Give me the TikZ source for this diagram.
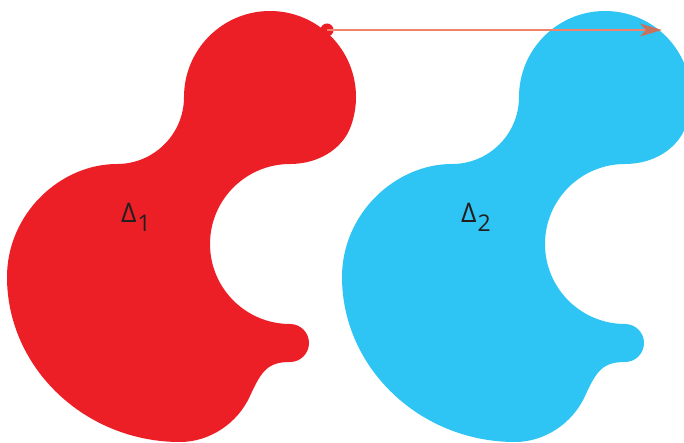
\documentclass[tikz,border=0pt]{standalone}
\usepackage{fontspec}
\setmainfont{Open Sans}
\usetikzlibrary{arrows.meta}
\definecolor{blobred}{HTML}{ED1F26}
\definecolor{blobcyan}{HTML}{2EC4F3}
\definecolor{arrline}{HTML}{F3826A}
\definecolor{arrhead}{HTML}{C7725F}
\definecolor{lbltext}{HTML}{231F20}
\tikzset{
  pics/blob/.style={code={%
    \fill[#1] (184,97) .. controls (184,49.5) and (222.5,11) .. (270,11)
      .. controls (317.5,11) and (356,49.5) .. (356,97)
      .. controls (356,107) and (354.2,117) .. (350.8,126.4)
      .. controls (342.6,149) and (318.2,164) .. (290,164)
      .. controls (245.8,164) and (210,199.8) .. (210,244)
      .. controls (210,288.2) and (245.8,324) .. (290,324)
      .. controls (300.5,324) and (309,332.5) .. (309,343)
      .. controls (309,353.5) and (300.5,362) .. (290,362)
      .. controls (268,362) and (261.6,370.5) .. (250,396)
      .. controls (237.5,423.6) and (209.4,442) .. (180,442)
      .. controls (84.85,442) and (7,367.75) .. (7,277)
      .. controls (7,214) and (60,164) .. (117,164)
      .. controls (154,164) and (184,134) .. (184,97) -- cycle;
  }},
  lbl/.style={text=lbltext, font=\fontsize{27}{27}\selectfont, inner sep=0pt, anchor=base west},
  transl/.style={draw=arrline, line width=1.6pt,
    -{Stealth[length=22pt,width=13pt,inset=6pt,color=arrhead,fill=arrhead]}},
  dotmark/.style={circle, fill=blobred, inner sep=0pt, minimum size=13pt}
}
\begin{document}
\begin{tikzpicture}[x=1pt,y=-1pt]
  \useasboundingbox (0,0) rectangle (684,443);
  \clip (0,0) rectangle (684,443);
  \pic (b1) at (0,0) {blob=blobred};
  \pic (b2) at (335,0) {blob=blobcyan};
  \node[dotmark] (p1) at (327,30) {};
  \coordinate (p2) at (662,30);
  \draw[transl] (p1.center) -- (p2);
  \node[lbl] (d1) at (121,223) {Δ\kern1pt\raisebox{-9pt}{\fontsize{23}{23}\selectfont 1}};
  \node[lbl] (d2) at (461,223) {Δ\kern1pt\raisebox{-9pt}{\fontsize{23}{23}\selectfont 2}};
\end{tikzpicture}
\end{document}
